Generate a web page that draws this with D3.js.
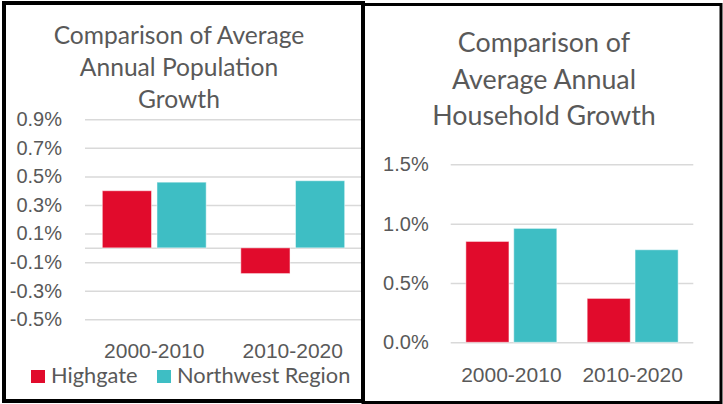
<!DOCTYPE html>
<html>
<head>
<meta charset="utf-8">
<script src="https://cdn.jsdelivr.net/npm/d3@7"></script>
<style>
  html, body { margin: 0; padding: 0; background: #fff; }
  svg { display: block; font-family: Lato, "Open Sans", sans-serif; }
</style>
</head>
<body>
<div id="chart"></div>
<script>
(function(){
  const periods = ["2000-2010", "2010-2020"];
  const seriesNames = ["Highgate", "Northwest Region"];
  const colors = ["#e10b2c", "#3ebec4"];

  // average annual population growth, %
  const popHighgate = [0.40, -0.18];
  const popNorthwest = [0.46, 0.47];
  const popTicks = [-0.5, -0.3, -0.1, 0.1, 0.3, 0.5, 0.7, 0.9];

  // average annual household growth, %
  const hhHighgate = [0.85, 0.37];
  const hhNorthwest = [0.96, 0.78];
  const hhTicks = [0, 0.5, 1.0, 1.5];

  const textColor = "#595959";
  const gridColor = "#d9d9d9";

  const svg = d3.select("#chart")
    .append("svg")
    .attr("width", 723)
    .attr("height", 404);

  svg.append("rect").attr("width", 723).attr("height", 404).attr("fill", "#fff");

  function drawPanel(opts) {
    const g = svg.append("g");
    const rows = opts.periods.map((p, i) => ({
      period: p,
      values: opts.series.map((s, j) => ({ name: seriesNames[j], value: s[i], idx: j }))
    }));

    const y = d3.scaleLinear().domain(opts.yDomain).range(opts.yRange);
    const x0 = d3.scaleBand().domain(opts.periods).range(opts.xRange)
      .paddingInner(0.25).paddingOuter(0.125);
    const x1 = d3.scaleBand().domain(seriesNames).range([0, x0.bandwidth()]).paddingInner(0.1);

    // gridlines
    const grid = g.append("g")
      .attr("transform", `translate(${opts.xRange[0]},0)`)
      .call(d3.axisLeft(y).tickValues(opts.gridTicks)
        .tickSize(-(opts.xRange[1] - opts.xRange[0])).tickFormat(""));
    grid.select(".domain").remove();
    grid.selectAll("line").attr("stroke", gridColor).attr("stroke-width", 1.5);

    // tick labels
    const yAxis = g.append("g")
      .attr("transform", `translate(${opts.xRange[0]},0)`)
      .call(d3.axisLeft(y).tickValues(opts.ticks).tickSize(0).tickPadding(opts.tickPad)
        .tickFormat(opts.fmt));
    yAxis.select(".domain").remove();
    yAxis.selectAll("text").attr("fill", textColor)
      .attr("font-size", opts.tickFont).attr("font-family", null);

    // bars
    g.append("g")
      .selectAll("g")
      .data(rows)
      .join("g")
      .attr("transform", d => `translate(${x0(d.period)},0)`)
      .selectAll("rect")
      .data(d => d.values)
      .join("rect")
      .attr("x", d => x1(d.name))
      .attr("width", x1.bandwidth())
      .attr("y", d => y(Math.max(0, d.value)))
      .attr("height", d => Math.abs(y(d.value) - y(0)))
      .attr("fill", d => colors[d.idx])
      .attr("stroke", "#fff")
      .attr("stroke-opacity", 0.5)
      .attr("stroke-width", 1);

    // category labels
    const xAxis = g.append("g")
      .attr("transform", `translate(0,${opts.xAxisY})`)
      .call(d3.axisBottom(x0).tickSize(0).tickPadding(opts.xPad));
    xAxis.select(".domain").remove();
    xAxis.selectAll("text").attr("fill", textColor)
      .attr("font-size", opts.catFont).attr("font-family", null);

    // title
    g.append("text")
      .attr("text-anchor", "middle")
      .attr("fill", textColor)
      .attr("font-size", opts.titleFont)
      .selectAll("tspan")
      .data(opts.title)
      .join("tspan")
      .attr("x", opts.titleX)
      .attr("y", (d, i) => opts.titleY + i * opts.titleStep)
      .text(d => d);

    return { x0, y, g };
  }

  drawPanel({
    periods: periods,
    series: [popHighgate, popNorthwest],
    yDomain: [-0.5, 0.9], yRange: [319.3, 119.3],
    xRange: [85, 362],
    ticks: popTicks, gridTicks: popTicks.concat([0]),
    fmt: d => d3.format(".1f")(d).replace("−", "-") + "%",
    tickPad: 23, tickFont: 20,
    xAxisY: 320, xPad: 23, catFont: 21,
    title: ["Comparison of Average", "Annual Population", "Growth"],
    titleX: 179, titleY: 44, titleStep: 32, titleFont: 24.6
  });

  drawPanel({
    periods: periods,
    series: [hhHighgate, hhNorthwest],
    yDomain: [0, 1.5], yRange: [342.3, 164.3],
    xRange: [450.7, 693.3],
    ticks: hhTicks, gridTicks: hhTicks,
    fmt: d => d3.format(".1f")(d) + "%",
    tickPad: 22, tickFont: 20,
    xAxisY: 342.3, xPad: 24.5, catFont: 21,
    title: ["Comparison of", "Average Annual", "Household Growth"],
    titleX: 544, titleY: 52, titleStep: 36.7, titleFont: 26.8
  });

  // legend (left panel only)
  const legend = svg.append("g")
    .selectAll("g")
    .data(seriesNames)
    .join("g")
    .attr("transform", (d, i) => `translate(${[31, 157][i]},370)`);
  legend.append("rect")
    .attr("width", 14).attr("height", 13)
    .attr("fill", (d, i) => colors[i]);
  legend.append("text")
    .attr("x", 20).attr("y", 13)
    .attr("fill", textColor)
    .attr("font-size", 21.8)
    .text(d => d);

  // panel frames
  svg.append("rect")
    .attr("x", 4).attr("y", 3).attr("width", 359).attr("height", 398)
    .attr("fill", "none").attr("stroke", "#000").attr("stroke-width", 4);
  svg.append("rect")
    .attr("x", 363).attr("y", 4.5).attr("width", 358).attr("height", 398)
    .attr("fill", "none").attr("stroke", "#000").attr("stroke-width", 3);
})();
</script>
</body>
</html>
